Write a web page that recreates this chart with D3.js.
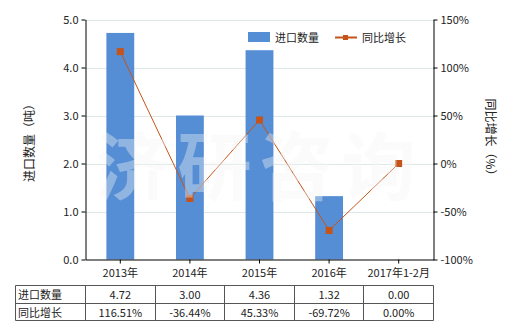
<!DOCTYPE html>
<html>
<head>
<meta charset="utf-8">
<script src="https://cdn.jsdelivr.net/npm/d3@7"></script>
<style>
  body { margin: 0; background: #fff; }
  text { font-family: "Noto Sans CJK SC", "DejaVu Sans", sans-serif; }
</style>
</head>
<body>
<svg class="chart" width="520" height="330"></svg>
<script>
const categories = ['2013年', '2014年', '2015年', '2016年', '2017年1-2月'];
const quantity = [4.72, 3.00, 4.36, 1.32, 0.00];
const growth = [116.51, -36.44, 45.33, -69.72, 0.00];
const quantityLabels = ['4.72', '3.00', '4.36', '1.32', '0.00'];
const growthLabels = ['116.51%', '-36.44%', '45.33%', '-69.72%', '0.00%'];
const leftTicks = [0, 1, 2, 3, 4, 5];
const rightTicks = [-100, -50, 0, 50, 100, 150];

const plotLeft = 85.5, plotRight = 433.5, plotTop = 19.5, plotBottom = 259.5;
const barColor = '#558ED5';
const lineColor = '#C4541A';

const svg = d3.select('svg.chart');

const x = d3.scaleBand().domain(categories).range([plotLeft, plotRight]);
const yL = d3.scaleLinear().domain([0, 5]).range([plotBottom, plotTop]);
const yR = d3.scaleLinear().domain([-100, 150]).range([plotBottom, plotTop]);

// gridlines
svg.append('g')
  .selectAll('line')
  .data(leftTicks.slice(1))
  .enter().append('line')
  .attr('x1', plotLeft).attr('x2', plotRight)
  .attr('y1', d => Math.round(yL(d)) + 0.5).attr('y2', d => Math.round(yL(d)) + 0.5)
  .style('stroke', '#dde8e8');

// bars
const barW = x.bandwidth() * 0.4;
svg.append('g')
  .selectAll('rect')
  .data(quantity)
  .enter().append('rect')
  .attr('x', (d, i) => x(categories[i]) + (x.bandwidth() - barW) / 2)
  .attr('width', barW)
  .attr('y', d => yL(d))
  .attr('height', d => plotBottom - yL(d))
  .style('fill', barColor);

// growth line
const line = d3.line()
  .x((d, i) => x(categories[i]) + x.bandwidth() / 2)
  .y(d => yR(d));

svg.append('path')
  .attr('d', line(growth))
  .style('fill', 'none')
  .style('stroke', lineColor)
  .style('stroke-width', 1);

svg.append('g')
  .selectAll('rect')
  .data(growth)
  .enter().append('rect')
  .attr('x', (d, i) => x(categories[i]) + x.bandwidth() / 2 - 3.5)
  .attr('y', d => yR(d) - 3.5)
  .attr('width', 7).attr('height', 7)
  .style('fill', lineColor);

// axes
const axisL = svg.append('g')
  .attr('transform', `translate(${plotLeft},0)`)
  .call(d3.axisLeft(yL).tickValues(leftTicks).tickFormat(d3.format('.1f')).tickSize(4).tickSizeOuter(0));
const axisR = svg.append('g')
  .attr('transform', `translate(${plotRight},0)`)
  .call(d3.axisRight(yR).tickValues(rightTicks).tickFormat(d => d + '%').tickSize(4).tickSizeOuter(0));
const axisB = svg.append('g')
  .attr('transform', `translate(0,${plotBottom})`)
  .call(d3.axisBottom(x).tickSize(4).tickSizeOuter(0).tickPadding(6));

[axisL, axisR, axisB].forEach(g => {
  g.selectAll('path, line').style('stroke', '#000');
  g.selectAll('text')
    .style('font-size', '11px')
    .style('fill', '#222')
    .style('font-family', '"Noto Sans CJK SC", sans-serif');
});

// axis titles
svg.append('text')
  .attr('transform', 'translate(34,140) rotate(-90)')
  .attr('text-anchor', 'middle')
  .style('font-size', '12px')
  .style('fill', '#222')
  .text('进口数量（吨）');

svg.append('text')
  .attr('transform', 'translate(486,140) rotate(90)')
  .attr('text-anchor', 'middle')
  .style('font-size', '12px')
  .style('fill', '#222')
  .text('同比增长（%）');

// legend
const legend = svg.append('g');
legend.append('rect')
  .attr('x', 248).attr('y', 32).attr('width', 22).attr('height', 10)
  .style('fill', barColor);
legend.append('text')
  .attr('x', 275).attr('y', 42)
  .style('font-size', '11px').style('fill', '#222')
  .text('进口数量');
legend.append('line')
  .attr('x1', 335).attr('x2', 357).attr('y1', 37.5).attr('y2', 37.5)
  .style('stroke', lineColor).style('stroke-width', 2);
legend.append('rect')
  .attr('x', 343).attr('y', 35).attr('width', 5).attr('height', 5)
  .style('fill', lineColor);
legend.append('text')
  .attr('x', 362).attr('y', 42)
  .style('font-size', '11px').style('fill', '#222')
  .text('同比增长');

// watermark
svg.append('text')
  .attr('x', (plotLeft + plotRight) / 2).attr('y', 194)
  .attr('text-anchor', 'middle')
  .style('font-size', '74px')
  .style('font-weight', 'bold')
  .style('letter-spacing', '8px')
  .style('fill', 'rgba(245,245,245,0.38)')
  .text('济研咨询');

// data table
const tTop = 285.5, tMid = 303.5, tBot = 320.5, tLeft = 15.5;
const table = svg.append('g');
const cols = [tLeft].concat(categories.map(c => x(c))).concat([plotRight]);
cols.forEach(cx => {
  table.append('line')
    .attr('x1', Math.round(cx - 0.5) + 0.5).attr('x2', Math.round(cx - 0.5) + 0.5)
    .attr('y1', tTop).attr('y2', tBot)
    .style('stroke', '#555');
});
[tTop, tMid, tBot].forEach(ty => {
  table.append('line')
    .attr('x1', tLeft).attr('x2', plotRight)
    .attr('y1', ty).attr('y2', ty)
    .style('stroke', '#555');
});

const rows = [
  { name: '进口数量', labels: quantityLabels, y: tTop },
  { name: '同比增长', labels: growthLabels, y: tMid }
];
rows.forEach(r => {
  table.append('text')
    .attr('x', 18).attr('y', r.y + 13)
    .style('font-size', '11px').style('fill', '#222')
    .text(r.name);
  table.selectAll(null)
    .data(r.labels)
    .enter().append('text')
    .attr('x', (d, i) => x(categories[i]) + x.bandwidth() / 2)
    .attr('y', r.y + 13.5)
    .attr('text-anchor', 'middle')
    .style('font-size', '11px').style('fill', '#222')
    .text(d => d);
});
</script>
</body>
</html>
